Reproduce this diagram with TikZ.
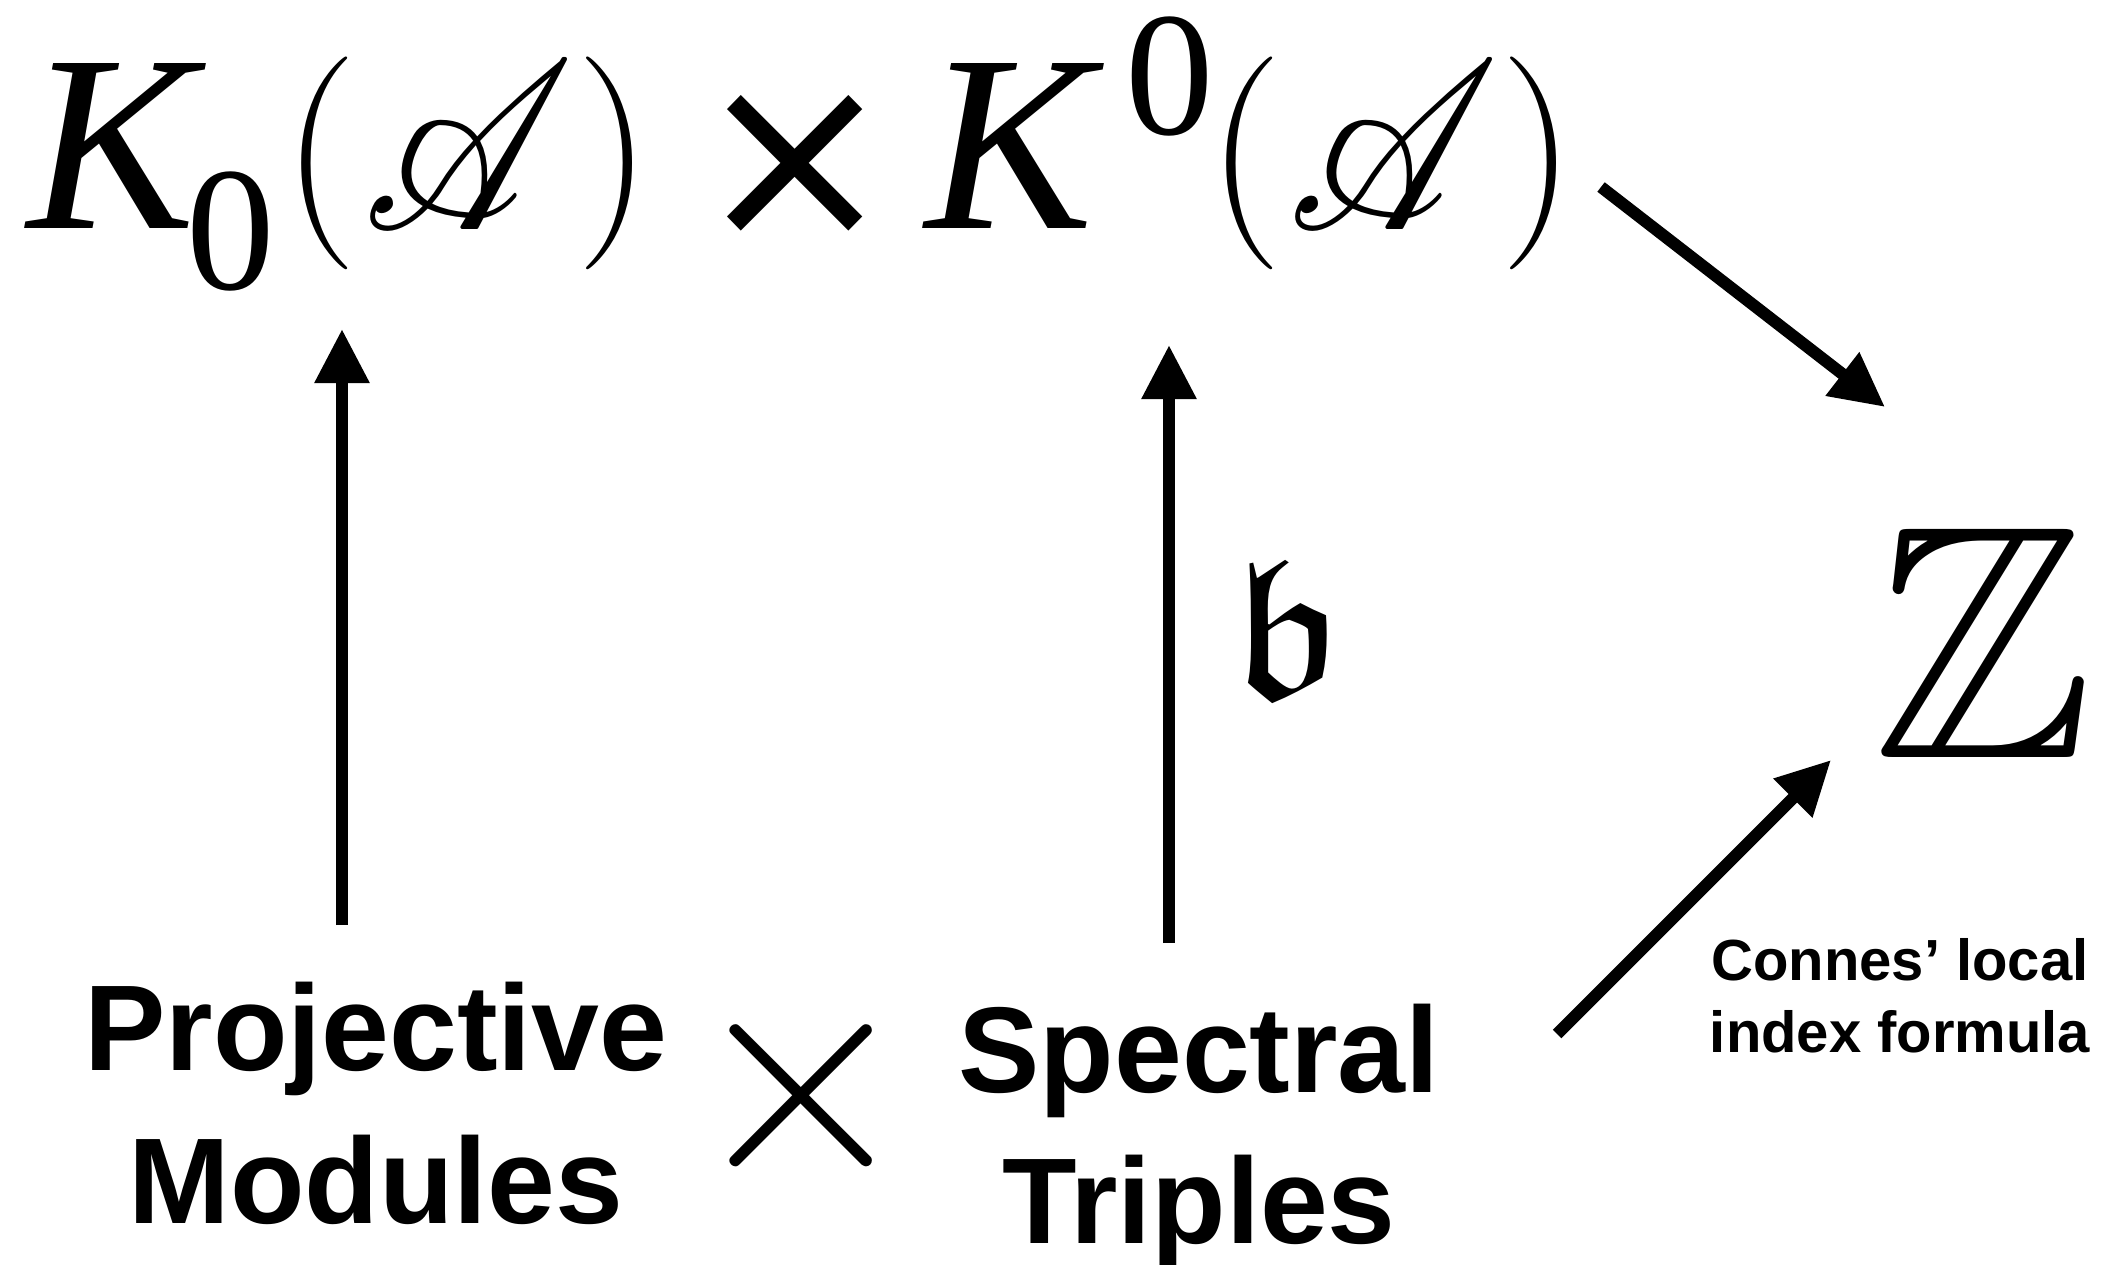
\documentclass[tikz,border=0pt]{standalone}
\usepackage{fontspec}
\usepackage{amssymb}
\usepackage{mathrsfs}
\usetikzlibrary{arrows.meta}
\newfontfamily\lserif{Liberation Serif}
\newfontfamily\lsans{Liberation Sans}
\newfontfamily\djv{DejaVu Sans}
\tikzset{
  arr/.style={line width=12pt, -{Triangle[length=54pt,width=52pt]}},
  big/.style={inner sep=0pt, anchor=base, font=\fontsize{213}{220}\selectfont\rmfamily},
  bigit/.style={inner sep=0pt, anchor=base, font=\fontsize{252}{260}\selectfont\lserif\itshape},
  idx/.style={inner sep=0pt, anchor=base, font=\fontsize{177}{180}\selectfont\lserif},
  tms/.style={inner sep=0pt, anchor=base, font=\fontsize{240}{240}\selectfont\djv},
  lbl/.style={inner sep=0pt, anchor=base, font=\fontsize{122}{130}\selectfont\lsans\bfseries},
  small/.style={inner sep=0pt, anchor=base, font=\fontsize{58}{62}\selectfont\lsans\bfseries},
  sym/.style={inner sep=0pt, anchor=base}
}
\begin{document}
\begin{tikzpicture}[x=1pt,y=1pt]
\useasboundingbox (0,0) rectangle (2103,-1265);
% top formula
\node[bigit] (ka) at (112,-229) {K};
\node[idx] (suba) at (231,-290) {0};
\node[big] (lpa) at (320,-217) {(};
\node[sym] (aa) at (469,-230) {\scalebox{20.4}[24]{$\mathscr{A}$}};
\node[big] (rpa) at (614,-217) {)};
\node[tms] (tmtop) at (795,-239) {×};
\node[bigit] (kb) at (1010,-229) {K};
\node[idx] (supb) at (1170,-135) {0};
\node[big] (lpb) at (1245,-217) {(};
\node[sym] (ab) at (1394,-230) {\scalebox{20.4}[24]{$\mathscr{A}$}};
\node[big] (rpb) at (1538,-217) {)};
% Z and b
\node[sym] (zz) at (1983,-757) {\scalebox{33.3}{$\mathbb{Z}$}};
\node[sym] (bb) at (1286,-697) {\scalebox{22}[20]{$\mathfrak{b}$}};
% bottom labels
\node[lbl] (pm1) at (376,-1070) {Projective};
\node[lbl] (pm2) at (376,-1223) {Modules};
\node[sym] (tmbot) at (801,-1169) {\scalebox{29.5}{$\times$}};
\node[lbl] (st1) at (1199,-1092) {Spectral};
\node[lbl] (st2) at (1199,-1243) {Triples};
\node[small] (cl1) at (1900,-980) {Connes’ local};
\node[small] (cl2) at (1900,-1052) {index formula};
% arrow end points
\coordinate (a1s) at (342,-925);
\coordinate (a1e) at (342,-329);
\coordinate (a2s) at (1169,-943);
\coordinate (a2e) at (1169,-345);
\coordinate (a3s) at (1601,-187);
\coordinate (a3e) at (1885,-407);
\coordinate (a4s) at (1557,-1034);
\coordinate (a4e) at (1831,-760);
\draw[arr] (a1s) -- (a1e);
\draw[arr] (a2s) -- (a2e);
\draw[arr] (a3s) -- (a3e);
\draw[arr] (a4s) -- (a4e);
\end{tikzpicture}
\end{document}
